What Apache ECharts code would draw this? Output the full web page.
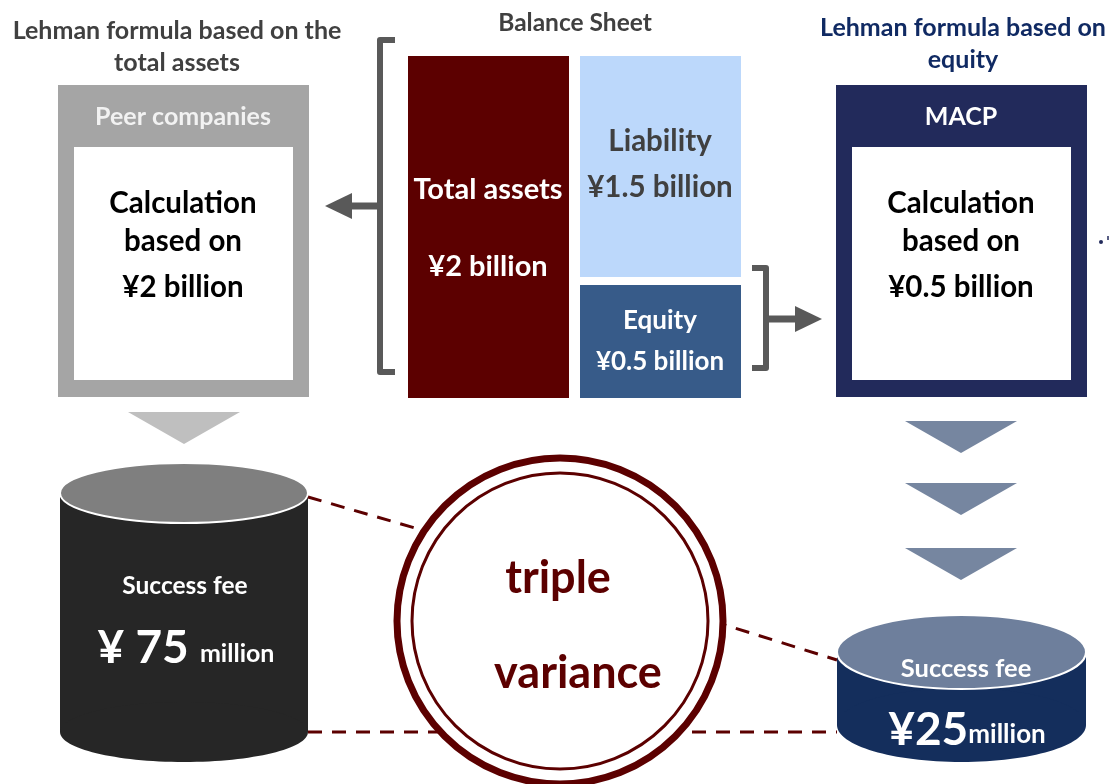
<!DOCTYPE html>
<html>
<head>
<meta charset="utf-8">
<script src="https://cdn.jsdelivr.net/npm/echarts@6/dist/echarts.min.js"></script>
<style>
  html, body { margin: 0; padding: 0; background: #fff; }
  #main { width: 1109px; height: 784px; }
</style>
</head>
<body>
<div id="main"></div>
<script>
// texts and values of the diagram
const headerLeft = ['Lehman formula based on the', 'total assets'];
const headerMid = 'Balance Sheet';
const headerRight = ['Lehman formula based on', 'equity'];
const methodNames = ['Peer companies', 'MACP'];
const calcLines = ['Calculation', 'based on'];
const basisValues = ['¥2 billion', '¥0.5 billion'];
const balanceItems = ['Total assets', 'Liability', 'Equity'];
const balanceValues = ['¥2 billion', '¥1.5 billion', '¥0.5 billion'];
const feeLabel = 'Success fee';
const feeValues = [75, 25];
const feeUnit = 'million';
const varianceText = ['triple', 'variance'];

const FONT = 'Lato, "Open Sans", sans-serif';
const DARK_RED = '#5c0000';
const BRACKET = '#595959';

function txt(x, y, str, size, color) {
    return {
        type: 'text', x: x, y: y, z: 20,
        style: {
            text: str, fill: color,
            font: 'bold ' + size + 'px ' + FONT,
            align: 'center', verticalAlign: 'middle',
            textAlign: 'center', textVerticalAlign: 'middle'
        }
    };
}

function rect(x, y, w, h, color) {
    return { type: 'rect', shape: { x: x, y: y, width: w, height: h }, style: { fill: color } };
}

function tri(x1, x2, top, tip, color) {
    return {
        type: 'polygon',
        shape: { points: [[x1, top], [x2, top], [(x1 + x2) / 2, tip]] },
        style: { fill: color }
    };
}

// cylinder: body + bottom ellipse + top ellipse
function cylinder(cx, rx, topY, botY, ry, bodyColor, topColor) {
    return [
        rect(cx - rx, topY, rx * 2, botY - topY, bodyColor),
        { type: 'ellipse', shape: { cx: cx, cy: botY, rx: rx, ry: ry }, style: { fill: bodyColor } },
        { type: 'ellipse', shape: { cx: cx, cy: topY, rx: rx, ry: ry },
          style: { fill: topColor, stroke: '#fff', lineWidth: 2 } }
    ];
}

function dashed(points) {
    return {
        type: 'polyline', z: 1,
        shape: { points: points },
        style: { stroke: DARK_RED, lineWidth: 3, lineDash: [14, 10], fill: null }
    };
}

function feeText(x, y, big, unitSize) {
    return {
        type: 'text', x: x, y: y, z: 20,
        style: {
            text: '{a|' + big + '}{b|' + feeUnit + '}',
            align: 'center', verticalAlign: 'middle', textAlign: 'center', textVerticalAlign: 'middle',
            rich: {
                a: { fill: '#fff', font: 'bold 46px ' + FONT, lineHeight: 52, verticalAlign: 'bottom' },
                b: { fill: '#fff', font: 'bold ' + unitSize + 'px ' + FONT, lineHeight: 52, verticalAlign: 'bottom', padding: [0, 0, 5, 0] }
            }
        }
    };
}

const elements = [];

// headers
elements.push(txt(177, 31, headerLeft[0], 25, '#404040'));
elements.push(txt(177, 63, headerLeft[1], 25, '#404040'));
elements.push(txt(575, 23, headerMid, 24.5, '#404040'));
elements.push(txt(963, 28, headerRight[0], 25, '#102a63'));
elements.push(txt(963, 60, headerRight[1], 25, '#102a63'));

// method boxes
[[58, '#a5a5a5', 183], [836, '#222a5b', 961]].forEach(function (b, i) {
    elements.push(rect(b[0], 85, 251, 312, b[1]));
    elements.push(rect(b[0] + 16, 147, 219, 233, '#fff'));
    elements.push(txt(b[2], 117, methodNames[i], 25, i === 0 ? '#f2f2f2' : '#fff'));
    elements.push(txt(b[2], 203, calcLines[0], 29.5, '#000'));
    elements.push(txt(b[2], 241, calcLines[1], 29.5, '#000'));
    elements.push(txt(b[2], 287, basisValues[i], 29.5, '#000'));
});

// balance sheet
elements.push(rect(408, 56, 161, 342, DARK_RED));
elements.push(rect(580, 56, 161, 221, '#bcd8fb'));
elements.push(rect(580, 285, 161, 113, '#375b89'));
elements.push(txt(488, 190, balanceItems[0], 29, '#fff'));
elements.push(txt(488, 267, balanceValues[0], 29, '#fff'));
elements.push(txt(660, 141, balanceItems[1], 29.5, '#404040'));
elements.push(txt(660, 187, balanceValues[1], 29.5, '#404040'));
elements.push(txt(660, 321, balanceItems[2], 26, '#fff'));
elements.push(txt(660, 362, balanceValues[2], 26, '#fff'));

// brackets and arrows
elements.push({
    type: 'polyline',
    shape: { points: [[395, 40], [380, 40], [380, 372], [395, 372]] },
    style: { stroke: BRACKET, lineWidth: 6, lineJoin: 'round', fill: null }
});
elements.push({ type: 'line', shape: { x1: 380, y1: 206, x2: 350, y2: 206 }, style: { stroke: BRACKET, lineWidth: 7 } });
elements.push({ type: 'polygon', shape: { points: [[325, 206], [352, 193], [352, 219]] }, style: { fill: BRACKET } });

elements.push({
    type: 'polyline',
    shape: { points: [[752, 268], [766, 268], [766, 368], [752, 368]] },
    style: { stroke: BRACKET, lineWidth: 6, lineJoin: 'round', fill: null }
});
elements.push({ type: 'line', shape: { x1: 766, y1: 319, x2: 797, y2: 319 }, style: { stroke: BRACKET, lineWidth: 7 } });
elements.push({ type: 'polygon', shape: { points: [[822, 319], [795, 306], [795, 332]] }, style: { fill: BRACKET } });

// stray marker at right edge
elements.push({ type: 'circle', shape: { cx: 1101, cy: 242, r: 2 }, style: { fill: '#222a5b' } });
elements.push({ type: 'line', shape: { x1: 1108, y1: 236, x2: 1108, y2: 240 }, style: { stroke: '#222a5b', lineWidth: 1.5 } });

// down triangles
elements.push(tri(128, 240, 412, 444, '#bfbfbf'));
[[421, 453], [483, 515], [548, 580]].forEach(function (t) {
    elements.push(tri(905, 1017, t[0], t[1], '#7686a0'));
});

// dashed connectors (under the circle)
elements.push(dashed([[308, 497], [460, 541]]));
elements.push(dashed([[690, 614], [837, 660]]));
elements.push(dashed([[308, 732], [837, 732]]));

// cylinders
cylinder(184, 124, 493, 732, 30, '#262626', '#7f7f7f').forEach(function (e) { elements.push(e); });
cylinder(961.5, 124.5, 652, 725, 37, '#142e5c', '#6e7f9c').forEach(function (e) { elements.push(e); });

elements.push(txt(185, 586, feeLabel, 24.5, '#fff'));
elements.push(feeText(186, 645, '¥ ' + feeValues[0] + ' ', 25));
elements.push(txt(966, 669, feeLabel, 25.5, '#fff'));
elements.push(feeText(967, 727, '¥' + feeValues[1], 26));

// variance circle
elements.push({ type: 'circle', z: 10, shape: { cx: 560, cy: 621, r: 163 }, style: { fill: '#fff', stroke: DARK_RED, lineWidth: 7 } });
elements.push({ type: 'circle', z: 11, shape: { cx: 560, cy: 621, r: 148 }, style: { fill: null, stroke: DARK_RED, lineWidth: 3 } });
elements.push(txt(558, 578, varianceText[0], 45, DARK_RED));
elements.push(txt(578, 673, varianceText[1], 45, DARK_RED));

const chart = echarts.init(document.getElementById('main'), null, { renderer: 'canvas' });
chart.setOption({
    backgroundColor: '#fff',
    animation: false,
    graphic: { elements: elements }
});
</script>
</body>
</html>
